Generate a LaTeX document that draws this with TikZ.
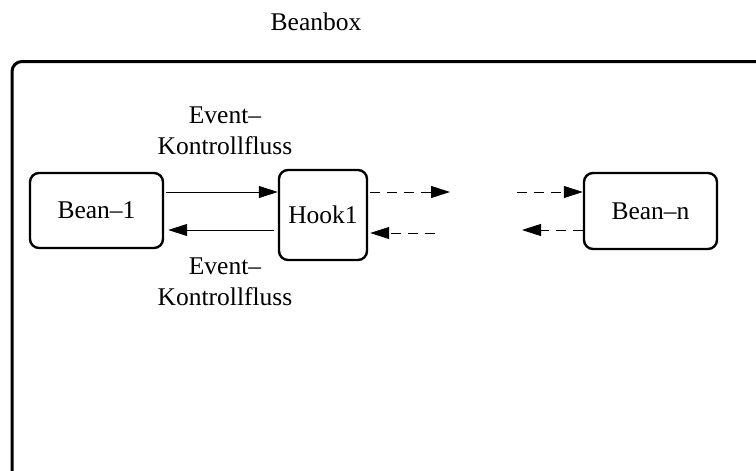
\documentclass[tikz,border=0pt]{standalone}
\usepackage{fontspec}
\setmainfont{Liberation Serif}
\usetikzlibrary{arrows.meta}
\begin{document}
\begin{tikzpicture}[x=1pt, y=-1pt, font=\fontsize{25.5}{31}\selectfont,
      >={Triangle[length=19pt,width=12pt]},
      bean/.style={draw, line width=2.4pt, rounded corners=9pt, inner sep=0pt},
      flow/.style={->, line width=1pt},
      dflow/.style={->, line width=1pt, dash pattern=on 10pt off 7pt}]
    \useasboundingbox (0,0) rectangle (756,471);
    \clip (0,0) rectangle (756,471);
    \node (title) at (316,22) {Beanbox};
    \draw[line width=3pt, rounded corners=10pt] (12,61.5) rectangle (800,520);
    \node[bean, minimum width=133pt, minimum height=75pt] (bean1) at (96.5,210.5) {Bean–1};
    \node[bean, minimum width=88pt, minimum height=90pt] (hook) at (323,215) {Hook1};
    \node[bean, minimum width=133pt, minimum height=76pt] (beann) at (650.5,211) {Bean–n};
    \node[align=center] (lbtop) at (225,131) {Event–\\Kontrollfluss};
    \node[align=center] (lbbot) at (225,282) {Event–\\Kontrollfluss};
    \coordinate (outa) at (450,192);
    \coordinate (ina) at (435,233);
    \coordinate (outb) at (517,192);
    \coordinate (inb) at (522,230);
    \draw[flow] ([xshift=2pt]bean1.east |- 0,192) -- (hook.west |- 0,192);
    \draw[flow] ([xshift=-4pt]hook.west |- 0,230) -- ([xshift=4pt]bean1.east |- 0,230);
    \draw[dflow] ([xshift=2pt]hook.east |- outa) -- (outa);
    \draw[dflow] (ina) -- ([xshift=2pt]hook.east |- ina);
    \draw[dflow] (outb) -- (beann.west |- outb);
    \draw[dflow] (beann.west |- inb) -- (inb);
  \end{tikzpicture}
\end{document}
